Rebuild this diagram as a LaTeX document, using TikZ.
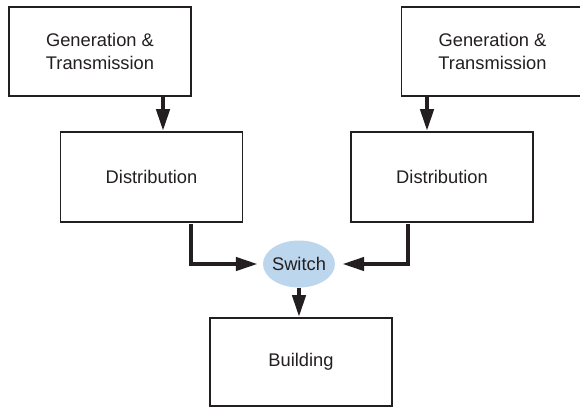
\documentclass[tikz,border=0pt]{standalone}
\usepackage{fontspec}
\setmainfont{Liberation Sans}
\usetikzlibrary{arrows.meta,shapes.geometric}
\definecolor{ink}{HTML}{231F20}
\definecolor{switchblue}{HTML}{BCD6EE}
\begin{document}
\begin{tikzpicture}[x=1pt,y=-1pt,
  box/.style={draw=ink, line width=1.8pt, minimum width=182pt, minimum height=89pt,
    align=center, text=ink, font=\fontsize{18.3}{23}\selectfont, inner sep=0pt},
  flow/.style={draw=ink, line width=4.3pt, -{Triangle[length=22pt,width=13pt]}},
  switchnode/.style={ellipse, fill=switchblue, minimum width=72pt, minimum height=47pt,
    inner ysep=0pt, inner xsep=-2pt, text=ink, font=\fontsize{18.3}{20}\selectfont}]
\useasboundingbox (0,0) rectangle (580,408);
\fill[white] (0,0) rectangle (580,408);
\node[box] (gl) at (100,51.5) {Generation \&\\Transmission};
\node[box] (gr) at (492.5,51.5) {Generation \&\\Transmission};
\node[box, minimum height=90pt] (dl) at (151.5,177) {Distribution};
\node[box, minimum height=90pt] (dr) at (442,177) {Distribution};
\node[switchnode] (sw) at (299,264) {Switch};
\node[box, minimum height=88pt] (bd) at (301,362) {Building};
\draw[flow] ([xshift=63pt]gl.south) -- ([xshift=11.5pt]dl.north);
\draw[flow] ([xshift=-65.5pt]gr.south) -- ([xshift=-15pt]dr.north);
\draw[flow, shorten >=5pt] ([xshift=39.5pt,yshift=-1pt]dl.south) |- (sw.west);
\draw[flow, shorten >=7pt] ([xshift=-34pt,yshift=-1pt]dr.south) |- (sw.east);
\draw[flow] (sw.south) -- (sw.south |- bd.north);
\end{tikzpicture}
\end{document}
